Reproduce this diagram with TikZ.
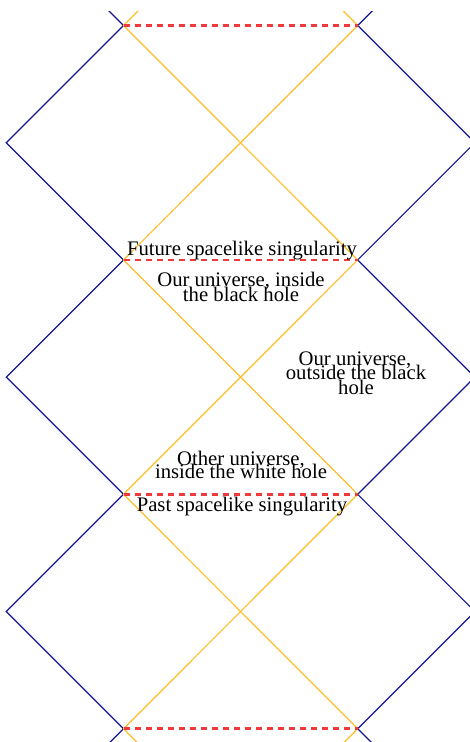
\documentclass[tikz,border=0pt]{standalone}
\usepackage{fontspec}
\setmainfont{Liberation Serif}
\definecolor{hblue}{RGB}{20,20,150}
\definecolor{horange}{RGB}{255,190,40}
\definecolor{hred}{RGB}{238,58,58}
\tikzset{
  bluel/.style={draw=hblue,line width=1.2pt},
  orangel/.style={draw=horange,line width=1.2pt},
  singl/.style={draw=hred,line width=2.6pt,dash pattern=on 6.5pt off 4.5pt},
  lbl/.style={anchor=base,inner sep=0pt,font=\fontsize{20.7}{24}\selectfont}
}
\begin{document}
\begin{tikzpicture}[x=1pt,y=-1pt]
\useasboundingbox (0,0) rectangle (470,742);
\def\yo{25.5}
\def\hh{117.2}
\def\xl{123.5}
\def\xr{357.7}
\begin{scope}
\clip (0,11) rectangle (470,742);
% blue zigzags
\draw[bluel] (\xl-\hh,\yo-\hh) -- (\xl,\yo) -- (\xl-\hh,\yo+\hh) -- (\xl,\yo+2*\hh) -- (\xl-\hh,\yo+3*\hh) -- (\xl,\yo+4*\hh) -- (\xl-\hh,\yo+5*\hh) -- (\xl,\yo+6*\hh) -- (\xl-\hh,\yo+7*\hh);
\draw[bluel] (\xr+\hh,\yo-\hh) -- (\xr,\yo) -- (\xr+\hh,\yo+\hh) -- (\xr,\yo+2*\hh) -- (\xr+\hh,\yo+3*\hh) -- (\xr,\yo+4*\hh) -- (\xr+\hh,\yo+5*\hh) -- (\xr,\yo+6*\hh) -- (\xr+\hh,\yo+7*\hh);
% orange horizons
\draw[orangel] (\xr,\yo-2*\hh) -- (\xl,\yo) -- (\xr,\yo+2*\hh) -- (\xl,\yo+4*\hh) -- (\xr,\yo+6*\hh) -- (\xl,\yo+8*\hh);
\draw[orangel] (\xl,\yo-2*\hh) -- (\xr,\yo) -- (\xl,\yo+2*\hh) -- (\xr,\yo+4*\hh) -- (\xl,\yo+6*\hh) -- (\xr,\yo+8*\hh);
\end{scope}
% singularities
\foreach \k in {0,2,4,6}{
  \draw[singl] (\xl,\yo+\k*\hh) -- (\xr,\yo+\k*\hh);
}
% labels
\node[lbl] (fut) at (242,255) {Future spacelike singularity};
\node[lbl] (bha) at (241,286.7) {Our universe, inside};
\node[lbl] (bhb) at (241,301) {the black hole};
\node[lbl] (outa) at (355,365) {Our universe,};
\node[lbl] (outb) at (356,379.5) {outside the black};
\node[lbl] (outc) at (356,394) {hole};
\node[lbl] (wha) at (241,465) {Other universe,};
\node[lbl] (whb) at (241,478.5) {inside the white hole};
\node[lbl] (past) at (242,511.7) {Past spacelike singularity};
\end{tikzpicture}
\end{document}
